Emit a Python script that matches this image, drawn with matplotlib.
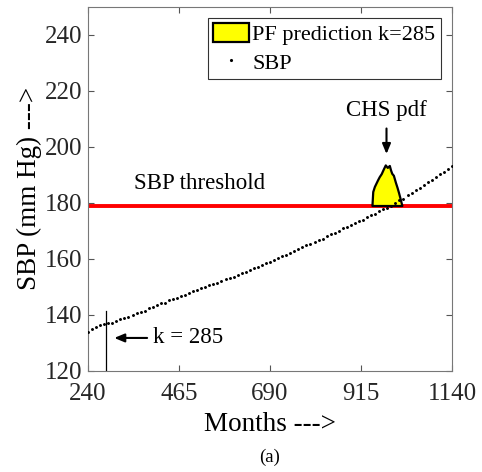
import matplotlib
matplotlib.use("Agg")
import matplotlib.pyplot as plt
from matplotlib.lines import Line2D
from matplotlib.patches import Patch

plt.rcParams["font.family"] = ["Liberation Serif", "DejaVu Serif"]

# SBP observations (every 10 months)
months = list(range(240, 1141, 10))
sbp = [134.0, 134.8, 135.6, 136.2, 136.7, 137.0, 137.2, 137.9, 138.4, 139.0,
       139.3, 139.9, 140.7, 141.0, 141.5, 142.3, 142.8, 143.3, 144.1, 144.3,
       145.1, 145.5, 146.1, 146.8, 147.1, 147.8, 148.4, 148.7, 149.4, 149.9,
       150.6, 151.0, 151.5, 152.0, 152.7, 153.2, 153.6, 154.3, 154.9, 155.3,
       156.0, 156.6, 157.0, 157.7, 158.5, 159.0, 159.5, 160.2, 160.9, 161.4,
       162.1, 162.9, 163.3, 164.1, 164.8, 165.3, 166.0, 166.8, 167.2, 168.0,
       168.8, 169.3, 170.0, 170.8, 171.4, 171.9, 172.7, 173.5, 174.0, 174.8,
       175.6, 176.1, 176.9, 177.7, 178.2, 178.9, 179.8, 180.8, 181.5, 182.6,
       183.4, 184.5, 185.3, 186.3, 187.4, 188.2, 189.2, 190.3, 191.0, 192.1,
       193.0]

# PF predicted pdf of the crossing (outline)
pdf_x = [942, 944, 948, 952, 956, 960, 965, 970, 975, 980, 985, 988, 991,
         995, 1000, 1004, 1008, 1012, 1016]
pdf_y = [179, 184.0, 185.8, 187.0, 188.2, 189.3, 190.4, 192.0, 193.5, 192.6,
         193.3, 191.7, 190.5, 189.8, 187.3, 185.5, 183.5, 181.3, 179]

threshold = 179
k = 285

fig = plt.figure(figsize=(4.82, 4.72), dpi=100)
ax = fig.add_axes([0.1826, 0.2146, 0.7552, 0.7712])

ax.axhline(threshold, color="red", lw=2.8, zorder=2, solid_capstyle="butt")
ax.fill_between(pdf_x, threshold, pdf_y, facecolor="yellow", edgecolor="black",
                lw=1.6, zorder=3)
ax.plot(months, sbp, ".", color="black", ms=2.2, zorder=4)
ax.plot([k, k], [120, 141.5], color="black", lw=0.9, zorder=4)

ax.text(515, 187, "SBP threshold", fontsize=16.5, ha="center", va="center")
ax.annotate("", xy=(978, 196.4), xytext=(978, 207.5),
            arrowprops=dict(arrowstyle="-|>,head_width=0.25,head_length=0.6",
                            color="black", lw=1.5))
ax.text(978, 213, "CHS pdf", fontsize=16.5, ha="center", va="center")
ax.annotate("", xy=(298, 131.7), xytext=(393, 131.7),
            arrowprops=dict(arrowstyle="-|>,head_width=0.25,head_length=0.6",
                            color="black", lw=1.5))
ax.text(401, 131.7, "k = 285", fontsize=16.5, ha="left", va="center")

ax.set_xlim(240, 1140)
ax.set_ylim(120, 250)
ax.set_xticks([240, 465, 690, 915, 1140])
ax.set_yticks(range(120, 241, 20))
ax.tick_params(direction="in", top=True, right=True, length=4, width=0.8,
               labelsize=18, colors="#555555", labelcolor="#262626", pad=4)
ax.tick_params(axis="x", pad=9)
for s in ax.spines.values():
    s.set_color("#777777")
    s.set_linewidth(0.8)

ax.set_xlabel("Months --->", fontsize=19.5, labelpad=5)
ax.set_ylabel("SBP (mm Hg) --->", fontsize=19.5, labelpad=2)

handles = [Patch(facecolor="yellow", edgecolor="black", lw=1.6),
           Line2D([], [], ls="none", marker=".", color="black", ms=2.5)]
leg = ax.legend(handles, ["PF prediction k=285", "SBP"], loc="upper right",
                fontsize=16, frameon=True, fancybox=False, handlelength=1.6,
                handleheight=0.9, handletextpad=0.15, borderpad=0.25,
                labelspacing=0.3, borderaxespad=0.5)
leg.get_frame().set_edgecolor("black")
leg.get_frame().set_linewidth(0.8)

fig.text(0.5 * (0.1826 + 0.9378), 1 - 457 / 472, "(a)", fontsize=13.5,
         ha="center", va="center")

fig.savefig("out.png", dpi=100)
